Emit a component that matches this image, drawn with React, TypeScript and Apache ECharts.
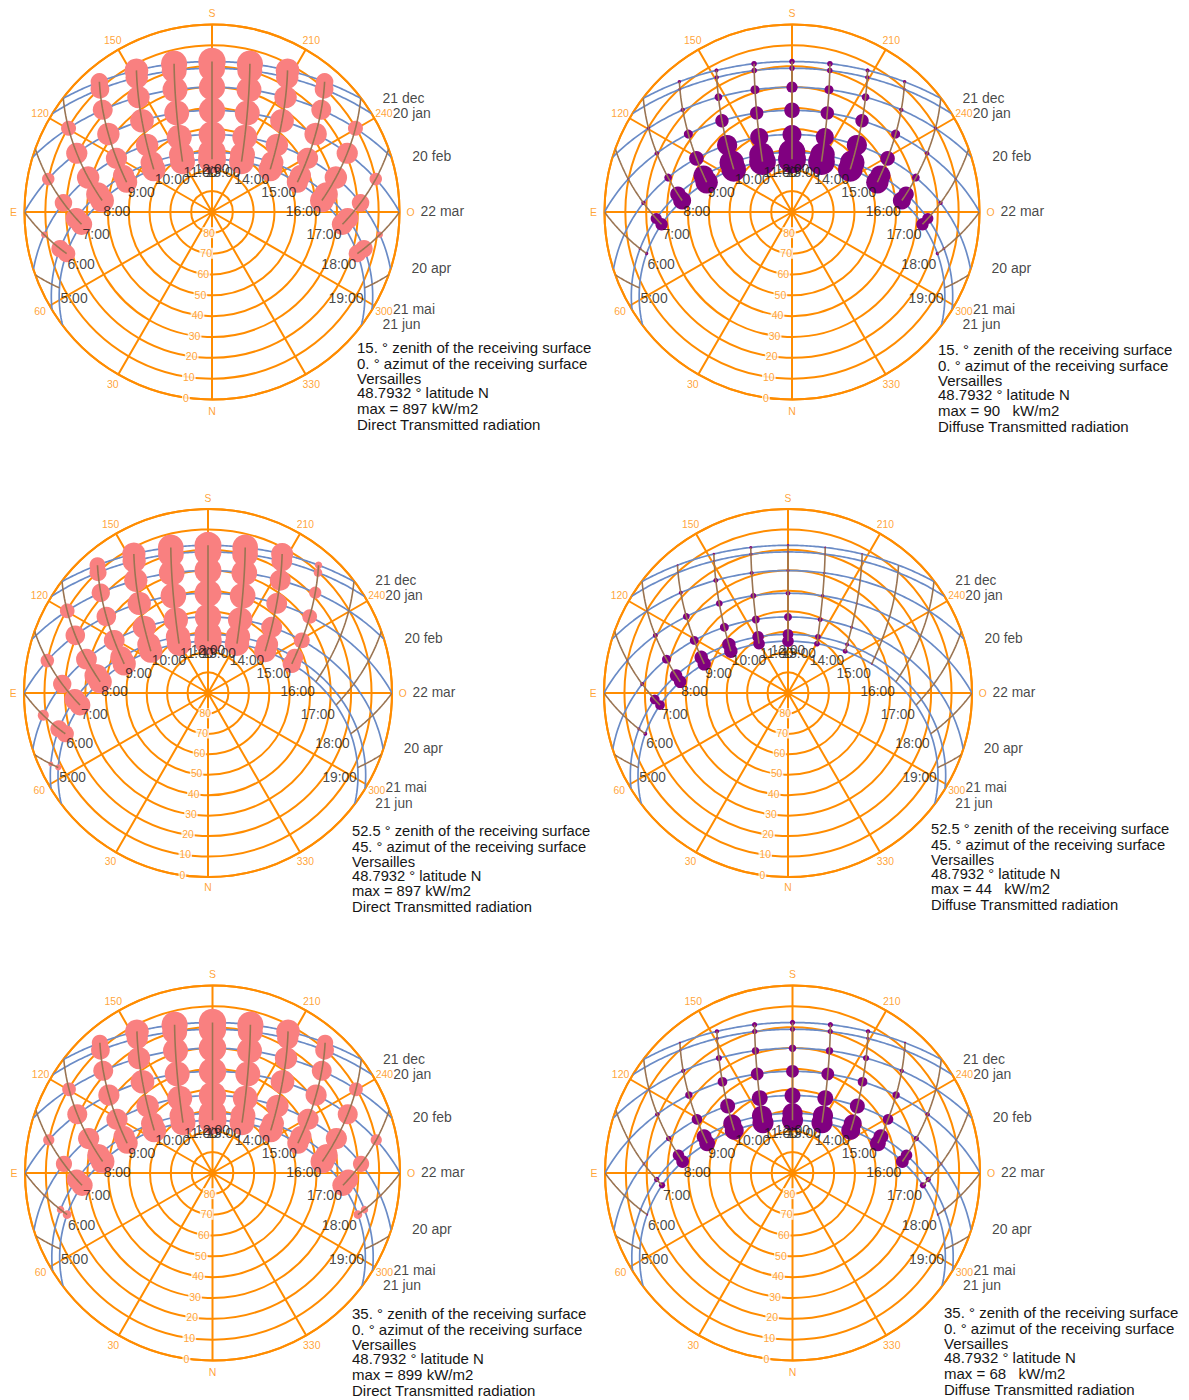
import React, { useEffect, useRef } from 'react';
import * as echarts from 'echarts';

// ---------- chart data ----------
const LAT = 48.7932;
const DATE_NAMES = ['21 dec', '20 jan', '20 feb', '22 mar', '20 apr', '21 mai', '21 jun'];
const DECLINATIONS = [-23.44, -20.2, -11.1, 0.0, 11.6, 20.1, 23.44];
const HOURS = [5, 6, 7, 8, 9, 10, 11, 12, 13, 14, 15, 16, 17, 18, 19];
const ANGLE_TICKS = [0, 30, 60, 90, 120, 150, 180, 210, 240, 270, 300, 330];
const ANGLE_NAMES: Record<number, string> = { 0: 'N', 90: 'E', 180: 'S', 270: 'O' };
const ELEV_TICKS = [0, 10, 20, 30, 40, 50, 60, 70, 80];

// bubble values, rows = dates (21 dec ... 21 jun), columns = hours 5:00 ... 19:00
const DIRECT_15_0 = [
  [0, 0, 0, 0, 560, 760, 840, 880, 840, 760, 560, 0, 0, 0, 0],
  [0, 0, 0, 0, 600, 720, 800, 840, 800, 720, 600, 0, 0, 0, 0],
  [0, 0, 0, 480, 640, 720, 800, 840, 800, 720, 640, 480, 0, 0, 0],
  [0, 0, 400, 680, 720, 760, 800, 840, 800, 760, 720, 680, 400, 0, 0],
  [0, 200, 560, 720, 680, 720, 800, 860, 800, 720, 680, 720, 560, 200, 0],
  [0, 560, 680, 760, 680, 720, 800, 880, 800, 720, 680, 760, 680, 560, 0],
  [0, 560, 680, 760, 680, 760, 800, 897, 800, 760, 680, 760, 680, 560, 0],
];
const DIFFUSE_15_0 = [
  [0, 0, 0, 0, 11, 13, 18, 18, 18, 13, 11, 0, 0, 0, 0],
  [0, 0, 0, 0, 9, 14, 18, 18, 18, 14, 9, 0, 0, 0, 0],
  [0, 0, 0, 11, 14, 25, 29, 36, 29, 25, 14, 11, 0, 0, 0],
  [0, 0, 7, 14, 29, 43, 43, 50, 43, 43, 29, 14, 7, 0, 0],
  [0, 0, 14, 25, 47, 65, 58, 61, 58, 65, 47, 25, 14, 0, 0],
  [0, 9, 36, 50, 65, 79, 79, 86, 79, 79, 65, 50, 36, 9, 0],
  [0, 11, 40, 58, 72, 79, 86, 90, 86, 79, 72, 58, 40, 11, 0],
];
const DIRECT_52_45 = [
  [0, 0, 0, 0, 520, 760, 840, 880, 840, 720, 240, 0, 0, 0, 0],
  [0, 0, 0, 0, 560, 760, 840, 880, 840, 680, 280, 0, 0, 0, 0],
  [0, 0, 0, 480, 600, 760, 840, 880, 840, 680, 400, 0, 0, 0, 0],
  [0, 0, 440, 640, 640, 760, 840, 880, 840, 680, 480, 0, 0, 0, 0],
  [0, 360, 600, 680, 680, 760, 800, 860, 800, 680, 520, 0, 0, 0, 0],
  [160, 560, 680, 760, 720, 760, 800, 880, 800, 720, 560, 0, 0, 0, 0],
  [200, 560, 680, 760, 760, 760, 800, 897, 800, 720, 600, 0, 0, 0, 0],
];
const DIFFUSE_52_45 = [
  [0, 0, 0, 0, 6, 8, 10, 8, 6, 5, 0, 0, 0, 0, 0],
  [0, 0, 0, 0, 6, 8, 10, 8, 6, 5, 0, 0, 0, 0, 0],
  [0, 0, 0, 6, 13, 16, 13, 10, 8, 5, 0, 0, 0, 0, 0],
  [0, 0, 6, 16, 22, 22, 19, 16, 11, 6, 0, 0, 0, 0, 0],
  [0, 0, 13, 29, 29, 29, 26, 26, 16, 10, 3, 0, 0, 0, 0],
  [0, 10, 32, 41, 44, 44, 38, 35, 19, 13, 6, 0, 0, 0, 0],
  [0, 13, 32, 41, 44, 44, 38, 38, 19, 16, 6, 0, 0, 0, 0],
];
const DIRECT_35_0 = [
  [0, 0, 0, 0, 520, 760, 840, 880, 840, 760, 520, 0, 0, 0, 0],
  [0, 0, 0, 0, 600, 680, 800, 880, 800, 680, 600, 0, 0, 0, 0],
  [0, 0, 0, 440, 640, 720, 800, 880, 800, 720, 640, 440, 0, 0, 0],
  [0, 0, 360, 640, 680, 760, 800, 880, 800, 760, 680, 640, 360, 0, 0],
  [0, 80, 520, 680, 680, 720, 800, 880, 800, 720, 680, 680, 520, 80, 0],
  [0, 240, 640, 720, 680, 720, 800, 880, 800, 720, 680, 720, 640, 240, 0],
  [0, 280, 680, 760, 680, 760, 800, 899, 800, 760, 680, 760, 680, 280, 0],
];
const DIFFUSE_35_0 = [
  [0, 0, 0, 0, 7, 14, 17, 17, 17, 14, 7, 0, 0, 0, 0],
  [0, 0, 0, 0, 7, 10, 17, 17, 17, 10, 7, 0, 0, 0, 0],
  [0, 0, 0, 7, 14, 20, 24, 24, 24, 20, 14, 7, 0, 0, 0],
  [0, 0, 5, 14, 24, 31, 41, 41, 41, 31, 24, 14, 5, 0, 0],
  [0, 0, 9, 17, 34, 48, 51, 51, 51, 48, 34, 17, 9, 0, 0],
  [0, 7, 17, 37, 48, 58, 65, 65, 65, 58, 48, 37, 17, 7, 0],
  [0, 7, 20, 41, 51, 61, 68, 68, 68, 61, 51, 41, 20, 7, 0],
];

// ---------- styling / layout ----------
const ORANGE = '#ff8c00';
const BLUE = '#6a8bc6';
const BROWN = '#9a7452';
const SALMON = '#f98080';
const PURPLE = '#800080';
const TEXT = '#151515';
const FONT = 'Liberation Sans, Arial, sans-serif';
const K_DIRECT = 28 / 897;
const K_DIFFUSE = 28 / 90;

const PANELS = [
  { c: [212, 212], R: 187.5, vals: DIRECT_15_0, color: SALMON, k: K_DIRECT, tx: 357, ty: 347,
    lines: ['15. ° zenith of the receiving surface', '0. ° azimut of the receiving surface', 'Versailles', '48.7932 ° latitude N', 'max = 897 kW/m2', 'Direct Transmitted radiation'] },
  { c: [792, 212], R: 187.5, vals: DIFFUSE_15_0, color: PURPLE, k: K_DIFFUSE, tx: 938, ty: 349,
    lines: ['15. ° zenith of the receiving surface', '0. ° azimut of the receiving surface', 'Versailles', '48.7932 ° latitude N', 'max = 90   kW/m2', 'Diffuse Transmitted radiation'] },
  { c: [208, 693], R: 184, vals: DIRECT_52_45, color: SALMON, k: K_DIRECT, tx: 352, ty: 831,
    lines: ['52.5 ° zenith of the receiving surface', '45. ° azimut of the receiving surface', 'Versailles', '48.7932 ° latitude N', 'max = 897 kW/m2', 'Direct Transmitted radiation'] },
  { c: [788, 693], R: 184, vals: DIFFUSE_52_45, color: PURPLE, k: K_DIFFUSE, tx: 931, ty: 829,
    lines: ['52.5 ° zenith of the receiving surface', '45. ° azimut of the receiving surface', 'Versailles', '48.7932 ° latitude N', 'max = 44   kW/m2', 'Diffuse Transmitted radiation'] },
  { c: [212.5, 1173], R: 187.5, vals: DIRECT_35_0, color: SALMON, k: K_DIRECT, tx: 352, ty: 1313,
    lines: ['35. ° zenith of the receiving surface', '0. ° azimut of the receiving surface', 'Versailles', '48.7932 ° latitude N', 'max = 899 kW/m2', 'Direct Transmitted radiation'] },
  { c: [792.5, 1173], R: 187.5, vals: DIFFUSE_35_0, color: PURPLE, k: K_DIFFUSE, tx: 944, ty: 1312,
    lines: ['35. ° zenith of the receiving surface', '0. ° azimut of the receiving surface', 'Versailles', '48.7932 ° latitude N', 'max = 68   kW/m2', 'Diffuse Transmitted radiation'] },
];
const LINE_OFFSETS = [0, 16, 31.5, 45.5, 61.5, 77];

// ---------- sun geometry (projection of the sun-path diagram) ----------
const RAD = Math.PI / 180;
const clamp = (x: number) => Math.max(-1, Math.min(1, x));
function sunPos(dec: number, hDeg: number): [number, number] {
  const phi = LAT * RAD, d = dec * RAD, h = hDeg * RAD;
  const sinE = Math.sin(phi) * Math.sin(d) + Math.cos(phi) * Math.cos(d) * Math.cos(h);
  const e = Math.asin(clamp(sinE));
  const c = clamp((sinE * Math.sin(phi) - Math.sin(d)) / (Math.cos(e) * Math.cos(phi)));
  const azS = Math.acos(c) / RAD;
  const az = hDeg < 0 ? 180 - azS : 180 + azS;
  return [Math.max(0, e / RAD), az];
}
function halfDay(dec: number) {
  return Math.acos(clamp(-Math.tan(LAT * RAD) * Math.tan(dec * RAD))) / RAD;
}
function dateCurve(dec: number) {
  const h0 = halfDay(dec);
  const pts: [number, number][] = [];
  const N = 160;
  for (let i = 0; i <= N; i++) pts.push(sunPos(dec, -h0 + (2 * h0 * i) / N));
  return pts;
}
function hourCurve(hour: number) {
  const h = (hour - 12) * 15;
  const dMin = DECLINATIONS[0], dMax = DECLINATIONS[DECLINATIONS.length - 1];
  const d0 = Math.atan(-Math.cos(h * RAD) / Math.tan(LAT * RAD)) / RAD;
  const start = Math.max(dMin, d0);
  if (start >= dMax) return [];
  const pts: [number, number][] = [];
  const N = 40;
  for (let i = 0; i <= N; i++) pts.push(sunPos(start + ((dMax - start) * i) / N, h));
  return pts;
}

function buildOption() {
  const polar: any[] = [], angleAxis: any[] = [], radiusAxis: any[] = [], series: any[] = [], graphic: any[] = [];
  PANELS.forEach((p, i) => {
    const s = p.R / 187.5;
    polar.push({ center: p.c, radius: p.R });
    angleAxis.push({
      polarIndex: i, type: 'value', min: 0, max: 360, interval: 30, startAngle: 270, clockwise: true,
      axisLine: { show: true, lineStyle: { color: ORANGE, width: 2 } },
      axisTick: { show: false }, axisLabel: { show: false },
      splitLine: { show: true, lineStyle: { color: ORANGE, width: 2 } },
    });
    radiusAxis.push({
      polarIndex: i, type: 'value', min: 0, max: 90, interval: 10, inverse: true,
      axisLine: { show: false }, axisTick: { show: false }, axisLabel: { show: false },
      splitLine: { show: true, lineStyle: { color: ORANGE, width: 2 } },
    });
    // date curves
    DECLINATIONS.forEach((dec, di) => {
      series.push({
        type: 'line', coordinateSystem: 'polar', polarIndex: i, name: DATE_NAMES[di],
        data: dateCurve(dec), symbol: 'none', silent: true, z: 2,
        lineStyle: { color: BLUE, width: 1.7 },
      });
    });
    // bubbles
    const bub: any[] = [];
    p.vals.forEach((row, di) => {
      row.forEach((v, hi) => {
        if (v > 0) {
          const pos = sunPos(DECLINATIONS[di], (HOURS[hi] - 12) * 15);
          bub.push([pos[0], pos[1], v]);
        }
      });
    });
    series.push({
      type: 'scatter', coordinateSystem: 'polar', polarIndex: i, data: bub, z: 3, silent: true,
      symbolSize: (val: number[]) => val[2] * p.k * s,
      itemStyle: { color: p.color, opacity: 1 },
    });
    // hour lines
    HOURS.forEach((hr) => {
      const pts = hourCurve(hr);
      if (!pts.length) return;
      series.push({
        type: 'line', coordinateSystem: 'polar', polarIndex: i, data: pts, symbol: 'none', silent: true, z: 4,
        lineStyle: { color: BROWN, width: 1.6 },
      });
    });
    // hour labels at the 21 jun end
    series.push({
      type: 'scatter', coordinateSystem: 'polar', polarIndex: i, z: 6, silent: true, clip: false,
      symbolSize: 1, itemStyle: { color: 'rgba(0,0,0,0)' },
      data: HOURS.map((hr) => {
        const pos = sunPos(DECLINATIONS[6], (hr - 12) * 15);
        const align = hr < 12 ? 'left' : hr > 12 ? 'right' : 'center';
        const dx = hr < 12 ? 1 : hr > 12 ? -1 : 0;
        return { value: pos, name: hr + ':00', label: { align, offset: [dx, 10 * s] } };
      }),
      label: { show: true, position: 'inside', formatter: '{b}', color: TEXT, fontSize: 14 * s, fontFamily: FONT, verticalAlign: 'middle' },
    });
    // date labels at sunset end
    series.push({
      type: 'scatter', coordinateSystem: 'polar', polarIndex: i, z: 6, silent: true, clip: false,
      symbolSize: 1, itemStyle: { color: 'rgba(0,0,0,0)' },
      data: DECLINATIONS.map((dec, di) => ({ value: sunPos(dec, halfDay(dec)), name: DATE_NAMES[di] })),
      label: { show: true, position: 'inside', align: 'left', offset: [21 * s, -1], formatter: '{b}', color: TEXT, fontSize: 14 * s, fontFamily: FONT, verticalAlign: 'middle' },
    });
    // azimuth labels
    series.push({
      type: 'scatter', coordinateSystem: 'polar', polarIndex: i, z: 5, silent: true, clip: false,
      symbolSize: 1, itemStyle: { color: 'rgba(0,0,0,0)' },
      data: ANGLE_TICKS.map((a) => ({ value: [-5.3, a], name: ANGLE_NAMES[a] ?? String(a) })),
      label: { show: true, position: 'inside', formatter: '{b}', color: ORANGE, fontSize: 10.5 * s, fontFamily: FONT },
    });
    // elevation labels
    series.push({
      type: 'scatter', coordinateSystem: 'polar', polarIndex: i, z: 5, silent: true, clip: false,
      symbolSize: 1, itemStyle: { color: 'rgba(0,0,0,0)' },
      data: ELEV_TICKS.map((e) => ({ value: [e, 8], name: String(e) })),
      label: { show: true, position: 'inside', formatter: '{b}', color: ORANGE, fontSize: 10.5 * s, fontFamily: FONT, backgroundColor: '#ffffff', padding: [0, 1] },
    });
    // info text block
    p.lines.forEach((t, li) => {
      graphic.push({
        type: 'text', x: p.tx, y: p.ty + LINE_OFFSETS[li] * s, silent: true,
        style: { text: t, fill: TEXT, fontSize: 15 * s, fontFamily: FONT, verticalAlign: 'middle', align: 'left' },
      });
    });
  });
  return { animation: false, backgroundColor: '#ffffff', polar, angleAxis, radiusAxis, series, graphic };
}

export default function App() {
  const ref = useRef<HTMLDivElement>(null);
  useEffect(() => {
    if (!ref.current) return;
    const chart = echarts.init(ref.current, undefined, { renderer: 'svg' });
    chart.setOption(buildOption() as any);
    return () => chart.dispose();
  }, []);
  return <div ref={ref} style={{ position: 'absolute', left: 0, top: 0, width: 1189, height: 1400 }} />;
}
